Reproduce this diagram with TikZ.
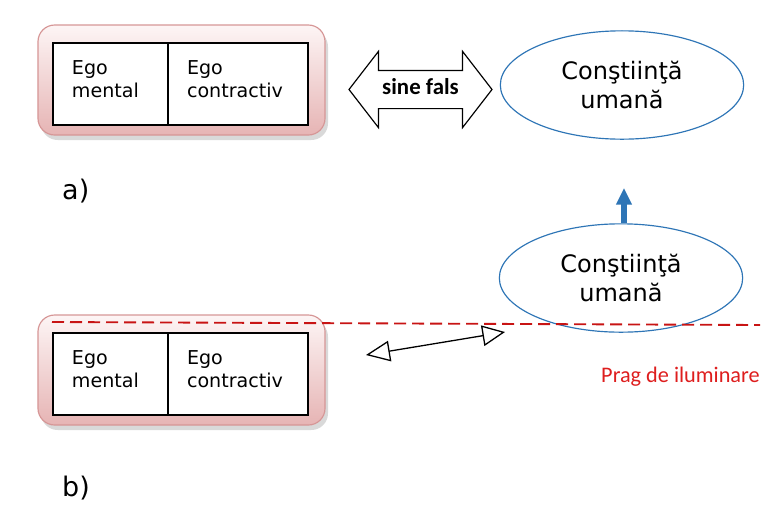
\documentclass[tikz,border=0pt]{standalone}
\usepackage{fontspec}
\setmainfont{DejaVu Sans}
\newfontfamily\calibri{Carlito}
\usepackage{xcolor}
\usetikzlibrary{positioning, arrows.meta, shapes.geometric, shapes.arrows, shadows}

\definecolor{frameline}{RGB}{214,150,150}
\definecolor{frametop}{RGB}{253,245,245}
\definecolor{framebot}{RGB}{230,180,180}
\definecolor{consblue}{RGB}{46,117,182}
\definecolor{thrred}{RGB}{200,20,20}
\definecolor{labred}{RGB}{222,30,30}

\begin{document}
\begin{tikzpicture}[
    x=0.03cm, y=-0.03cm,
    frame/.style={draw=frameline, line width=1pt, rounded corners=0.5cm,
      top color=frametop, bottom color=framebot,
      minimum width=8.61cm, minimum height=3.3cm,
      drop shadow={shadow xshift=0.09cm, shadow yshift=-0.15cm, opacity=0.3}},
    egobox/.style={draw, fill=white, line width=1pt, minimum height=2.46cm, inner ysep=0pt,
      inner xsep=0.57cm, outer sep=0pt, text width=#1, align=left,
      font=\fontsize{16.3}{19.6}\selectfont,
      execute at end node={\rule[-0.3cm]{0pt}{0pt}}},
    cons/.style={ellipse, draw=consblue, line width=1pt, minimum width=7.3cm,
      minimum height=3.25cm, align=center, font=\fontsize{20.5}{24}\selectfont},
    sinefals/.style={double arrow, draw, line width=1pt, minimum height=4.29cm,
      double arrow head extend=0.57cm, double arrow tip angle=104.6,
      text height=0.4cm, text depth=0.1cm, inner ysep=0.305cm, inner xsep=0pt,
      font=\calibri\bfseries\fontsize{19.5}{22}\selectfont},
    rise/.style={draw=consblue, line width=0.16cm, -{Triangle[length=0.5cm, width=0.45cm]}},
    threshold/.style={draw=thrred, line width=1.6pt, dash pattern=on 0.36cm off 0.18cm},
    link/.style={line width=1.1pt, {Triangle[open, length=0.72cm, width=0.62cm]}-{Triangle[open, length=0.68cm, width=0.62cm]}},
    tag/.style={anchor=base west, inner sep=0pt, font=\fontsize{23}{27}\selectfont},
  ]
  \useasboundingbox (0,0) rectangle (782,523);

  % a)
  \node[frame] (frameA) at (181.5,80) {};
  \node[egobox=2.31cm] (mentalA) at (110.5,84) {Ego\\mental};
  \node[egobox=3.06cm, right=0pt of mentalA] (contrA) {Ego\\contractiv};
  \node[sinefals] (fals) at (420.5,89.5) {sine fals};
  \node[cons] (consA) at (622,85) {Conştiinţă\\umană};
  \node[tag] (labA) at (62,199) {a)};

  % b)
  \node[frame] (frameB) at (181.5,370) {};
  \node[egobox=2.31cm] (mentalB) at (110.5,374) {Ego\\mental};
  \node[egobox=3.06cm, right=0pt of mentalB] (contrB) {Ego\\contractiv};
  \node[cons] (consB) at (621,278) {Conştiinţă\\umană};
  \node[tag] (labB) at (62,496) {b)};

  \coordinate (up) at (624,188);
  \draw[rise] (consB.north -| up) -- (up);

  \coordinate (thrL) at (52,322);
  \coordinate (thrR) at (760,325);
  \draw[threshold] (thrL) -- (thrR);
  \node[anchor=base west, inner sep=0pt, text=labred, font=\calibri\fontsize{19}{22}\selectfont]
    (prag) at (601,382) {Prag de iluminare};

  \coordinate (linkL) at (366,355);
  \coordinate (linkR) at (505,332);
  \draw[link] (linkL) -- (linkR);
\end{tikzpicture}
\end{document}
